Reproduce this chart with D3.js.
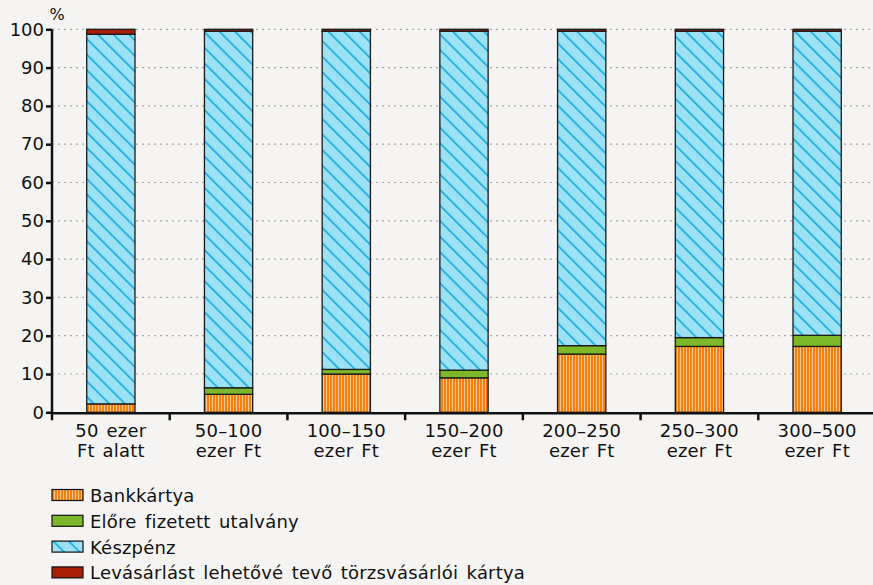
<!DOCTYPE html>
<html><head><meta charset="utf-8">
<script src="https://cdn.jsdelivr.net/npm/d3@7/dist/d3.min.js"></script>
<style>body{margin:0;background:#f5f4f2;} svg{display:block;}</style>
</head><body><svg id="c" width="873" height="585"></svg>
<script>
const categories = [["50 ezer","Ft alatt"],["50\u2013100","ezer Ft"],["100\u2013150","ezer Ft"],["150\u2013200","ezer Ft"],["200\u2013250","ezer Ft"],["250\u2013300","ezer Ft"],["300\u2013500","ezer Ft"]];
const seriesNames = ["Bankkártya","Előre fizetett utalvány","Készpénz","Levásárlást lehetővé tevő törzsvásárlói kártya"];
const bankkartya = [2.2, 4.7, 10.0, 9.0, 15.2, 17.2, 17.2];
const utalvany   = [0.0, 1.7, 1.2, 2.0, 2.2, 2.3, 2.9];
const keszpenz   = [96.5, 93.1, 88.3, 88.5, 82.1, 80.0, 79.4];
const torzs      = [1.3, 0.5, 0.5, 0.5, 0.5, 0.5, 0.5];
const yTicks = [0,10,20,30,40,50,60,70,80,90,100];

const svg = d3.select("#c");
const font = "'DejaVu Sans', sans-serif";
const defs = svg.append("defs");
const p1 = defs.append("pattern").attr("id","pBank").attr("patternUnits","userSpaceOnUse").attr("width",3).attr("height",10);
p1.append("rect").attr("width",3).attr("height",10).attr("fill","#f5820f");
p1.append("rect").attr("x",2).attr("width",1).attr("height",10).attr("fill","#fbc590");
const p2 = defs.append("pattern").attr("id","pCash").attr("patternUnits","userSpaceOnUse").attr("width",11).attr("height",11).attr("patternTransform","rotate(-45)");
p2.append("rect").attr("width",11).attr("height",11).attr("fill","#9ce1f4");
p2.append("rect").attr("x",0).attr("width",1.6).attr("height",11).attr("fill","#11aadd");
const fills = ["url(#pBank)","#7cb829","url(#pCash)","#a81d05"];

const x0 = 52, x1 = 876, yTop = 29.3, yBot = 412.3;
const x = d3.scaleBand().domain(d3.range(categories.length)).range([x0,x1]).paddingInner(0.59).paddingOuter(0.295);
const y = d3.scaleLinear().domain([0,100]).range([yBot,yTop]);

// grid
svg.append("g").selectAll("line").data(yTicks.filter(d=>d>0)).join("line")
  .attr("x1",x0).attr("x2",873).attr("y1",d=>y(d)).attr("y2",d=>y(d))
  .attr("stroke","#a8a8a8").attr("stroke-width",1.2).attr("stroke-dasharray","2,4");

const data = categories.map((c,i)=>({i, vals:[bankkartya[i],utalvany[i],keszpenz[i],torzs[i]]}));
const stackData = data.map(d=>{let acc=0; return d.vals.map((v,k)=>{const o={i:d.i,k,y0:acc,y1:acc+v}; acc+=v; return o;});}).flat().filter(d=>d.y1-d.y0>0);
svg.append("g").selectAll("rect").data(stackData).join("rect")
  .attr("x",d=>x(d.i)).attr("width",x.bandwidth())
  .attr("y",d=>y(d.y1)).attr("height",d=>y(d.y0)-y(d.y1))
  .attr("fill",d=>fills[d.k]).attr("stroke","#1a1a1a").attr("stroke-width",1.3);

// y axis
const ya = svg.append("g").attr("transform",`translate(${x0},0)`)
  .call(d3.axisLeft(y).tickValues(yTicks).tickSize(6).tickSizeOuter(0));
ya.select(".domain").attr("stroke","#111").attr("stroke-width",2.5).attr("d",`M0,${yBot+1}V${yTop}`);
ya.selectAll(".tick line").attr("stroke","#111").attr("stroke-width",2.5);
ya.selectAll(".tick text").attr("font-family",font).attr("font-size",18).attr("fill","#111").attr("x",-8);
svg.append("text").attr("x",57).attr("y",20).attr("font-family",font).attr("font-size",16).attr("fill","#111").attr("text-anchor","middle").text("%");

// x axis
svg.append("line").attr("x1",x0).attr("x2",873).attr("y1",yBot+1).attr("y2",yBot+1).attr("stroke","#111").attr("stroke-width",2.5);
const bounds = d3.range(categories.length+1).map(i=>x0 + i*(x1-x0)/categories.length).filter(v=>v<873);
svg.append("g").selectAll("line").data(bounds).join("line")
  .attr("x1",d=>d).attr("x2",d=>d).attr("y1",yBot).attr("y2",yBot+8).attr("stroke","#111").attr("stroke-width",2.5);
const xl = svg.append("g").selectAll("text").data(categories).join("text")
  .attr("font-family",font).attr("font-size",18).attr("fill","#111").attr("text-anchor","middle")
  .attr("letter-spacing",0.2).attr("word-spacing",2);
xl.each(function(d,i){
  const t = d3.select(this);
  d.forEach((line,j)=>t.append("tspan").attr("x",x(i)+x.bandwidth()/2).attr("y",437+j*20).text(line));
});

// legend
const lg = svg.append("g").selectAll("g").data(seriesNames).join("g")
  .attr("transform",(d,i)=>`translate(52,${489.5+i*25.8})`);
lg.append("rect").attr("width",31).attr("height",11).attr("fill",(d,i)=>fills[i]).attr("stroke","#111").attr("stroke-width",1.2);
lg.append("text").attr("x",38).attr("y",12.5).attr("font-family",font).attr("font-size",18).attr("fill","#111")
  .attr("letter-spacing",0.2).attr("word-spacing",2.5).text(d=>d);
</script></body></html>
